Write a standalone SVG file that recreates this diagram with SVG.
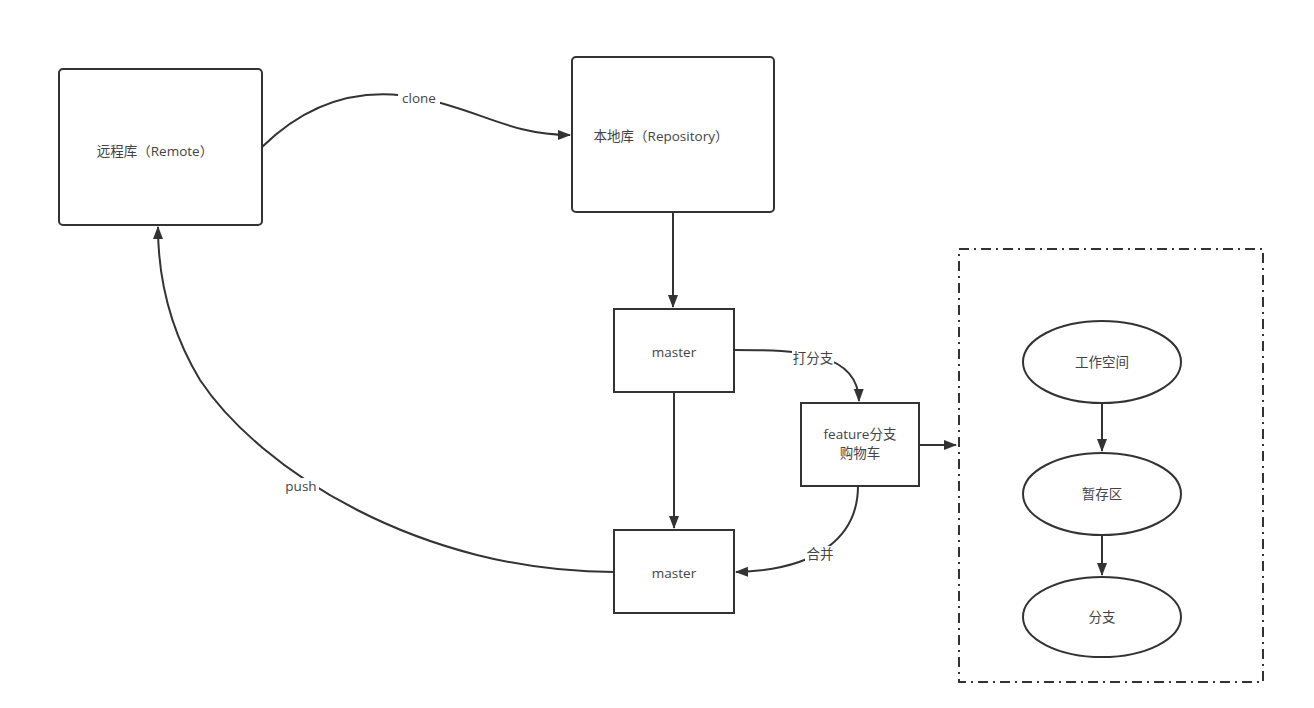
<svg xmlns="http://www.w3.org/2000/svg" width="1314" height="708" viewBox="0 0 1314 708">
<style>
.box{fill:#fff;stroke:#333;stroke-width:2}
.t{font-family:"Open Sans","Noto Sans CJK SC",sans-serif;font-size:13.5px;fill:#444;text-anchor:middle}
.e{fill:none;stroke:#333;stroke-width:2}
.lbl{font-family:"Open Sans","Noto Sans CJK SC",sans-serif;font-size:13.5px;fill:#444;text-anchor:middle}
.lb{fill:#fff}
</style>
<defs>
<marker id="arr" markerWidth="14" markerHeight="12" refX="12" refY="5" orient="auto" markerUnits="userSpaceOnUse">
<path d="M0,0 L13,5 L0,10 Z" fill="#333"/>
</marker>
</defs>
<rect width="1314" height="708" fill="#fff"/>
<g id="connectors">
<path class="e" d="M262,147 C320,90 380,90 420,98 C480,110 510,135 570,135" marker-end="url(#arr)"/>
<path class="e" d="M673,212 L673,307" marker-end="url(#arr)"/>
<path class="e" d="M674,392 L674,528" marker-end="url(#arr)"/>
<path class="e" d="M734,350 C800,350 858,352 859,401" marker-end="url(#arr)"/>
<path class="e" d="M919,445 L956,445" marker-end="url(#arr)"/>
<path class="e" d="M858,486 C858,535 820,570 736,572" marker-end="url(#arr)"/>
<path class="e" d="M614,572 C420,572 260,470 200,380 C170,330 158,280 158,227" marker-end="url(#arr)"/>
<path class="e" d="M1102,403 L1102,451" marker-end="url(#arr)"/>
<path class="e" d="M1102,535 L1102,575" marker-end="url(#arr)"/>
<rect class="lb" x="398" y="90" width="42" height="18"/>
<text class="lbl" x="419" y="103">clone</text>
<rect class="lb" x="792" y="350" width="42" height="18"/>
<text class="lbl" x="813" y="363">打分支</text>
<rect class="lb" x="805" y="546" width="30" height="18"/>
<text class="lbl" x="820" y="559">合并</text>
<rect class="lb" x="283" y="478" width="36" height="18"/>
<text class="lbl" x="301" y="491">push</text>
</g>
<g id="remote">
<rect class="box" x="59" y="69" width="203" height="156" rx="4"/>
<text class="t" x="155" y="156">远程库（Remote）</text>
</g>
<g id="local">
<rect class="box" x="572" y="57" width="202" height="155" rx="4"/>
<text class="t" x="661" y="141">本地库（Repository）</text>
</g>
<g id="master1">
<rect class="box" x="614" y="309" width="120" height="83"/>
<text class="t" x="674" y="357">master</text>
</g>
<g id="feature">
<rect class="box" x="801" y="403" width="118" height="83"/>
<text class="t" x="860" y="439">feature分支</text>
<text class="t" x="860" y="458">购物车</text>
</g>
<g id="master2">
<rect class="box" x="614" y="530" width="120" height="83"/>
<text class="t" x="674" y="578">master</text>
</g>
<g id="workarea">
<rect x="959" y="249" width="304" height="433" fill="none" stroke="#333" stroke-width="2" stroke-dasharray="10,5,2,5"/>
</g>
<g id="workspace">
<ellipse class="box" cx="1102" cy="362" rx="79" ry="41"/>
<text class="t" x="1102" y="367">工作空间</text>
</g>
<g id="stage">
<ellipse class="box" cx="1102" cy="494" rx="79" ry="41"/>
<text class="t" x="1102" y="499">暂存区</text>
</g>
<g id="branch">
<ellipse class="box" cx="1102" cy="617" rx="79" ry="40"/>
<text class="t" x="1102" y="622">分支</text>
</g>
</svg>
